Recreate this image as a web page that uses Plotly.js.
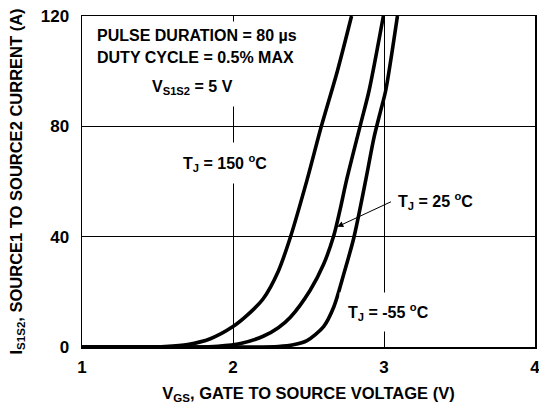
<!DOCTYPE html>
<html>
<head>
<meta charset="utf-8">
<script src="https://cdn.plot.ly/plotly-3.0.1.min.js"></script>
<style>html,body{margin:0;padding:0;background:#fff;}#chart{width:539px;height:407px;}</style>
</head>
<body>
<div id="chart"></div>
<script>
// Data
const vgs150 = [1.0, 1.4, 1.55, 1.7, 1.85, 2.0, 2.1, 2.2, 2.3, 2.38, 2.49, 2.585, 2.691, 2.785];
const ids150 = [0, 0, 0.2, 0.9, 3.0, 7.4, 11.8, 17.5, 27.5, 39.8, 60.5, 80, 100, 120];
const vgs25 = [1.0, 1.75, 1.9, 2.05, 2.2, 2.3, 2.38, 2.51, 2.6, 2.668, 2.71, 2.752, 2.846, 2.901, 2.996];
const ids25 = [0, 0, 0.3, 1.3, 3.9, 7, 10.8, 20.5, 30, 40.5, 50, 60.5, 81, 92.9, 120];
const vgsM55 = [1.0, 2.1, 2.3, 2.4, 2.49, 2.6, 2.668, 2.735, 2.801, 2.879, 2.934, 2.978, 3.011, 3.089];
const idsM55 = [0, 0, 0.2, 0.8, 2.3, 7.4, 14.6, 26.7, 39.8, 60.5, 76, 85.7, 92.9, 120];
const xTicks = [1, 2, 3, 4];
const yTicks = [0, 40, 80, 120];

const FONT = 'Liberation Sans, Arial, Helvetica, sans-serif';
const lineStyle = {color: '#000', width: 3.6, shape: 'spline', smoothing: 0.8};
const traces = [
  {x: vgs150, y: ids150, mode: 'lines', line: lineStyle, hoverinfo: 'skip'},
  {x: vgs25, y: ids25, mode: 'lines', line: lineStyle, hoverinfo: 'skip'},
  {x: vgsM55, y: idsM55, mode: 'lines', line: lineStyle, hoverinfo: 'skip'}
];

const tf = {family: FONT, size: 16, color: '#000', weight: 'bold'};
function lab(text, x, y, pad) {
  return {text: text, x: x, y: y, xref: 'x', yref: 'y', xanchor: 'left', yanchor: 'middle',
          showarrow: false, font: tf, bgcolor: '#fff', borderpad: pad, xshift: -pad - 1};
}
const annotations = [
  lab('PULSE DURATION = 80 µs', 1.097, 113.1, 5),
  lab('DUTY CYCLE = 0.5% MAX', 1.097, 105.1, 5),
  lab('V<sub>S1S2</sub> = 5 V', 1.462, 94.0, 9),
  lab('T<sub>J</sub> = 150 <sup>o</sup>C', 1.671, 66.7, 9),
  lab('T<sub>J</sub> = 25 <sup>o</sup>C', 3.09, 52.9, 2),
  lab('T<sub>J</sub> = -55 <sup>o</sup>C', 2.76, 12.8, 8),
  {text: '', x: 2.691, y: 43.6, ax: 3.056, ay: 52.9, xref: 'x', yref: 'y', axref: 'x', ayref: 'y',
   showarrow: true, arrowhead: 2, arrowsize: 1.2, arrowwidth: 1, arrowcolor: '#000'}
];

const layout = {
  width: 539, height: 407,
  margin: {l: 82, r: 4, t: 16, b: 60},
  paper_bgcolor: '#fff', plot_bgcolor: '#fff',
  showlegend: false,
  font: {family: FONT, color: '#000'},
  xaxis: {
    range: [1, 4], tickvals: xTicks, ticktext: xTicks.map(String),
    showgrid: true, gridcolor: '#000', gridwidth: 1,
    showline: true, linecolor: '#000', linewidth: 1.5, mirror: true,
    zeroline: false, ticks: '', ticklen: 0, ticklabeloverflow: 'allow', ticklabelstandoff: 4,
    tickfont: {family: FONT, size: 17, color: '#000', weight: 'bold'},
    title: {text: 'V<sub>GS</sub>, GATE TO SOURCE VOLTAGE (V)', standoff: 11,
            font: {family: FONT, size: 16.5, color: '#000', weight: 'bold'}}
  },
  yaxis: {
    range: [0, 120], tickvals: yTicks, ticktext: yTicks.map(String),
    showgrid: true, gridcolor: '#000', gridwidth: 1,
    showline: true, linecolor: '#000', linewidth: 1.5, mirror: true,
    zeroline: false, ticks: '', ticklen: 0, ticklabelstandoff: 8,
    tickfont: {family: FONT, size: 17, color: '#000', weight: 'bold'},
    title: {text: 'I<sub>S1S2</sub>, SOURCE1 TO SOURCE2 CURRENT (A)', standoff: 14,
            font: {family: FONT, size: 16.5, color: '#000', weight: 'bold'}}
  },
  annotations: annotations
};

Plotly.newPlot('chart', traces, layout, {displayModeBar: false, staticPlot: true});
</script>
</body>
</html>
